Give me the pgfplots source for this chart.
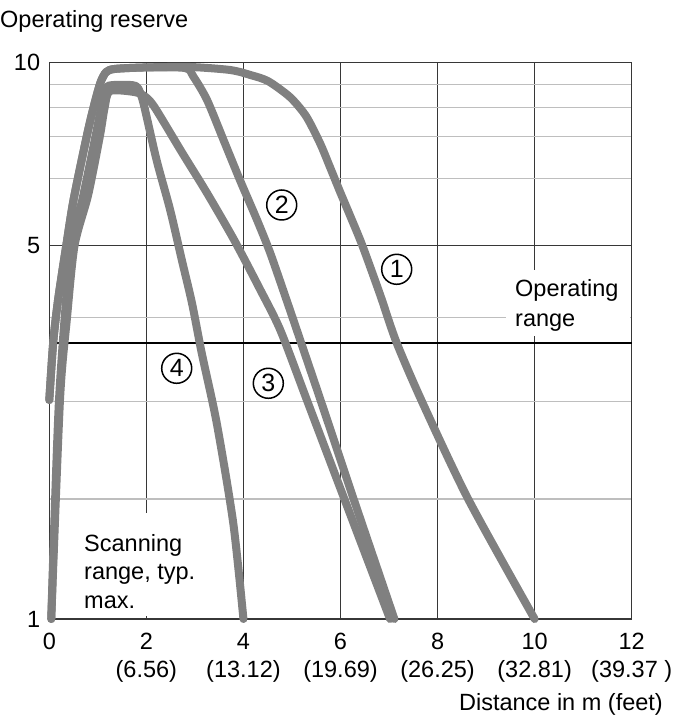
\documentclass[border=0pt]{standalone}
\usepackage{fontspec}
\setmainfont{Liberation Sans}
\usepackage{pgfplots}
\pgfplotsset{compat=1.18}

\definecolor{curvegray}{RGB}{128,128,128}
\definecolor{gridmaj}{RGB}{55,55,55}
\definecolor{gridmin}{RGB}{190,190,190}

% the operating reserve scale is drawn unevenly in the original:
% piecewise linear between the grid values 1,2,...,10
\pgfplotsset{
  reserve scale/.style={
    y coord trafo/.code={\pgfmathparse{(##1<=2)?(120*(##1-1)):((##1<=3)?(120+97.3*(##1-2)):((##1<=4)?(217.3+84.2*(##1-3)):((##1<=5)?(301.5+72*(##1-4)):((##1<=6)?(373.5+67.2*(##1-5)):((##1<=7)?(440.7+41.6*(##1-6)):((##1<=8)?(482.3+29*(##1-7)):((##1<=9)?(511.3+23.5*(##1-8)):(534.8+21.5*(##1-9)))))))))}},
  },
  curve/.style={curvegray, line width=8pt, line join=round, line cap=round, smooth, tension=0.45},
}

\begin{document}
\begin{tikzpicture}[font=\fontsize{23.5}{28}\selectfont]
\begin{axis}[
    reserve scale,
    width=582.4pt, height=556.3pt, scale only axis,
    xmin=0, xmax=12, ymin=1, ymax=10,
    xtick={0,2,4,6,8,10,12},
    xticklabels={0, {2\\(6.56)}, {4\\(13.12)}, {6\\(19.69)}, {8\\(26.25)}, {10\\(32.81)}, {12\\(39.37 )}},
    xticklabel style={align=center, inner sep=0pt, yshift=-14pt},
    ytick={1,5,10}, yticklabels={1,5,10},
    yticklabel style={inner sep=0pt, xshift=-9pt},
    minor ytick={2,3,4,6,7,8,9},
    extra y ticks={3.7}, extra y tick labels={},
    extra y tick style={grid=major, major grid style={black, line width=2pt}},
    grid=both,
    major grid style={gridmaj, line width=1.1pt},
    minor grid style={gridmin, line width=1.1pt},
    major tick length=0pt, minor tick length=0pt,
    axis line style={gridmaj, line width=1.3pt},
    clip=false,
]
% curve 1
\addplot[curve] coordinates {
  (0,3.02) (0.08,3.70) (0.18,4.24) (0.35,5.0) (0.50,5.68) (0.77,7.0)
  (0.91,8.0) (1.05,9.05) (1.17,9.56) (1.35,9.71) (2.0,9.78) (2.9,9.80)
  (3.73,9.66) (4.14,9.43) (4.51,9.14) (4.96,8.45) (5.29,7.71) (5.58,6.84)
  (5.79,6.25) (5.99,5.80) (6.20,5.44) (6.45,5.0) (6.82,4.31) (7.15,3.71)
  (7.68,3.0) (8.63,2.0) (10.0,1.0)
};
% curve 2
\addplot[curve] coordinates {
  (0,3.02) (0.08,3.70) (0.18,4.24) (0.35,5.0) (0.50,5.68) (0.77,7.0)
  (0.91,8.0) (1.05,9.05) (1.17,9.56) (1.35,9.71) (2.0,9.78) (2.80,9.75)
  (2.97,9.35) (3.25,8.33) (3.59,6.92) (3.93,5.97) (4.28,5.38) (4.55,4.90)
  (4.89,4.24) (5.10,3.85) (5.60,3.0) (6.27,2.0) (7.11,1.0)
};
% curve 3
\addplot[curve] coordinates {
  (0.04,1.0) (0.22,3.02) (0.36,3.97) (0.52,5.0) (0.80,5.75) (1.04,7.0)
  (1.14,8.0) (1.25,8.71) (1.77,8.66) (1.99,8.45) (2.18,7.99) (2.74,6.61)
  (3.25,5.78) (3.81,5.08) (4.32,4.42) (4.76,3.85) (5.32,3.0) (6.08,2.0)
  (7.02,1.0)
};
% curve 4
\addplot[curve] coordinates {
  (0.04,1.0) (0.20,3.02) (0.45,5.0) (0.68,5.68) (0.95,7.0) (1.07,8.0)
  (1.17,8.83) (1.29,8.96) (1.71,8.96) (1.83,8.83) (1.94,8.19) (2.21,6.44)
  (2.49,5.53) (2.73,4.80) (2.94,4.20) (3.14,3.58) (3.45,2.78) (3.79,1.80)
  (4.0,1.0)
};
\end{axis}
% labels (picture coordinates: origin at the lower left corner of the plot area)
\fill[white] (457pt,283pt) rectangle (581pt,349pt);
\fill[white] (31pt,3pt) rectangle (156pt,106pt);
\node[anchor=base west, inner sep=0pt] at (-49.3pt,591pt) {Operating reserve};
\node[anchor=base east, inner sep=0pt] at (613.7pt,-91pt) {Distance in m (feet)};
\node[anchor=base west, inner sep=0pt] at (465.7pt,322pt) {Operating};
\node[anchor=base west, inner sep=0pt] at (465.7pt,292pt) {range};
\node[anchor=base west, inner sep=0pt] at (34.7pt,67pt) {Scanning};
\node[anchor=base west, inner sep=0pt] at (34.7pt,39pt) {range, typ.};
\node[anchor=base west, inner sep=0pt] at (34.7pt,10pt) {max.};
\foreach \n/\x/\y in {1/347.4/349.7, 2/232.4/414, 3/219/235.7, 4/127.4/250.7}
  \node[circle, draw=black, line width=1.5pt, minimum size=30pt, inner sep=0pt,
        font=\fontsize{25}{26}\selectfont] at (\x pt,\y pt) {\n};
\path[use as bounding box] (-49.3pt,-100pt) rectangle (617.7pt,619pt);
\end{tikzpicture}
\end{document}
